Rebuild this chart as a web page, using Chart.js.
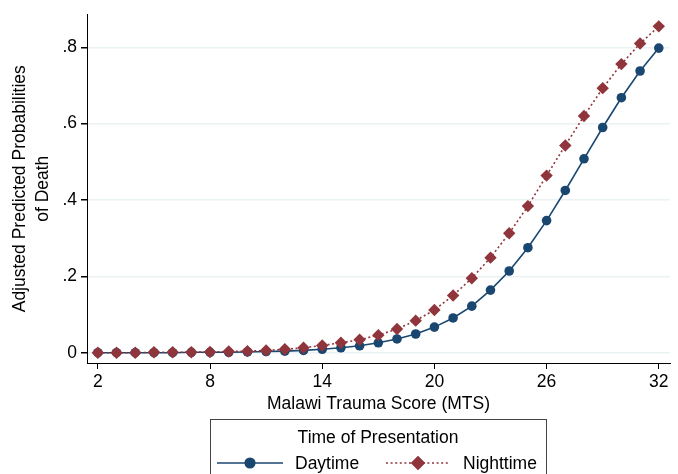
<!DOCTYPE html>
<html>
<head>
<meta charset="utf-8">
<script src="https://cdn.jsdelivr.net/npm/chart.js@4.4.1/dist/chart.umd.min.js"></script>
<style>
  html, body { margin: 0; padding: 0; background: #fff; }
  #wrap { width: 678px; height: 474px; }
</style>
</head>
<body>
<div id="wrap"><canvas id="chart" width="678" height="474"></canvas></div>
<script>
"use strict";

// ── Data ──────────────────────────────────────────────────
const mtsScores = [2, 3, 4, 5, 6, 7, 8, 9, 10, 11, 12, 13, 14, 15, 16, 17,
                   18, 19, 20, 21, 22, 23, 24, 25, 26, 27, 28, 29, 30, 31, 32];

const daytime   = [0.000, 0.000, 0.000, 0.000, 0.000, 0.001, 0.001, 0.001, 0.002, 0.003,
                   0.004, 0.006, 0.009, 0.013, 0.018, 0.026, 0.036, 0.049, 0.067, 0.091,
                   0.122, 0.164, 0.214, 0.275, 0.346, 0.425, 0.508, 0.590, 0.668, 0.738, 0.798];

const nighttime = [0.000, 0.000, 0.000, 0.001, 0.001, 0.001, 0.002, 0.003, 0.004, 0.006,
                   0.009, 0.013, 0.019, 0.026, 0.034, 0.046, 0.062, 0.084, 0.112, 0.150,
                   0.195, 0.249, 0.313, 0.384, 0.464, 0.543, 0.620, 0.693, 0.756, 0.810, 0.855];

const xTicks = [2, 8, 14, 20, 26, 32];
const yTicks = [0, 0.2, 0.4, 0.6, 0.8];

const legendTitle = "Time of Presentation";
const NAVY   = "#1a476f";
const MAROON = "#90353b";
const FONT   = "'Liberation Sans', Arial, sans-serif";
const FSIZE  = 17.5;

// ── Legend box (Stata style) ──────────────────────────────
const stataLegend = {
  id: "stataLegend",
  afterDraw(chart) {
    const c = chart.ctx;
    c.save();
    c.strokeStyle = "#444";
    c.lineWidth = 1;
    c.strokeRect(210.5, 419.5, 336, 70);

    c.fillStyle = "#000";
    c.font = FSIZE + "px " + FONT;
    c.textAlign = "center";
    c.textBaseline = "middle";
    c.fillText(legendTitle, 378, 438);

    const items = [
      { ds: chart.data.datasets[0], x0: 217, x1: 283, tx: 295 },
      { ds: chart.data.datasets[1], x0: 386, x1: 450, tx: 463 },
    ];
    const y = 463;
    items.forEach(it => {
      c.strokeStyle = it.ds.borderColor;
      c.lineWidth = it.ds.borderWidth;
      c.setLineDash(it.ds.borderDash || []);
      c.beginPath();
      c.moveTo(it.x0, y);
      c.lineTo(it.x1, y);
      c.stroke();
      c.setLineDash([]);
      Chart.helpers.drawPoint(c, {
        pointStyle: it.ds.pointStyle,
        radius: it.ds.pointRadius,
        borderWidth: 1,
      }, (it.x0 + it.x1) / 2, y);
      c.fillStyle = it.ds.pointBackgroundColor;
      c.fill();
      c.fillStyle = "#000";
      c.textAlign = "left";
      c.fillText(it.ds.label, it.tx, y + 1);
    });
    c.restore();
  },
};

// ── Chart ─────────────────────────────────────────────────
const ctx = document.getElementById("chart").getContext("2d");

new Chart(ctx, {
  type: "line",
  data: {
    datasets: [
      {
        label: "Daytime",
        data: mtsScores.map((x, i) => ({ x, y: daytime[i] })),
        borderColor: NAVY,
        backgroundColor: NAVY,
        pointBackgroundColor: NAVY,
        pointBorderColor: NAVY,
        borderWidth: 1.6,
        pointStyle: "circle",
        pointRadius: 4.8,
        pointBorderWidth: 0,
        tension: 0,
        order: 2,
      },
      {
        label: "Nighttime",
        data: mtsScores.map((x, i) => ({ x, y: nighttime[i] })),
        borderColor: MAROON,
        backgroundColor: MAROON,
        pointBackgroundColor: MAROON,
        pointBorderColor: MAROON,
        borderWidth: 1.6,
        borderDash: [2, 2.6],
        pointStyle: "rectRot",
        pointRadius: 6.2,
        pointBorderWidth: 0,
        tension: 0,
        order: 1,
      },
    ],
  },
  options: {
    responsive: false,
    animation: false,
    layout: { padding: { left: 0, right: 8, top: 12, bottom: 59 } },
    plugins: {
      legend:  { display: false },
      tooltip: { enabled: false },
    },
    scales: {
      x: {
        type: "linear",
        min: 1.42,
        max: 32.6,
        afterBuildTicks: s => { s.ticks = xTicks.map(v => ({ value: v })); },
        afterFit: s => { s.height = 52; },
        border: { color: "#000", width: 1 },
        grid: { drawOnChartArea: false, tickLength: 6, tickColor: "#000" },
        ticks: {
          color: "#000",
          padding: 3,
          maxRotation: 0,
          font: { family: FONT, size: FSIZE },
          callback: v => String(v),
        },
        title: {
          display: true,
          text: "Malawi Trauma Score (MTS)",
          color: "#000",
          padding: { top: 0, bottom: 0 },
          font: { family: FONT, size: FSIZE },
        },
      },
      y: {
        type: "linear",
        min: -0.027,
        max: 0.886,
        afterBuildTicks: s => { s.ticks = yTicks.map(v => ({ value: v })); },
        afterFit: s => { s.width = 87; },
        border: { color: "#000", width: 1 },
        grid: { color: "#eaf2f3", lineWidth: 1.5, tickLength: 6, tickColor: "#000" },
        ticks: {
          color: "#000",
          padding: 4,
          font: { family: FONT, size: FSIZE },
          callback: v => v === 0 ? "0" : String(Number(v.toFixed(1))).replace(/^0/, ""),
        },
        title: {
          display: true,
          text: ["Adjusted Predicted Probabilities", "of Death"],
          color: "#000",
          padding: { top: 8, bottom: 4 },
          font: { family: FONT, size: FSIZE, lineHeight: 1.35 },
        },
      },
    },
  },
  plugins: [stataLegend],
});
</script>
</body>
</html>
